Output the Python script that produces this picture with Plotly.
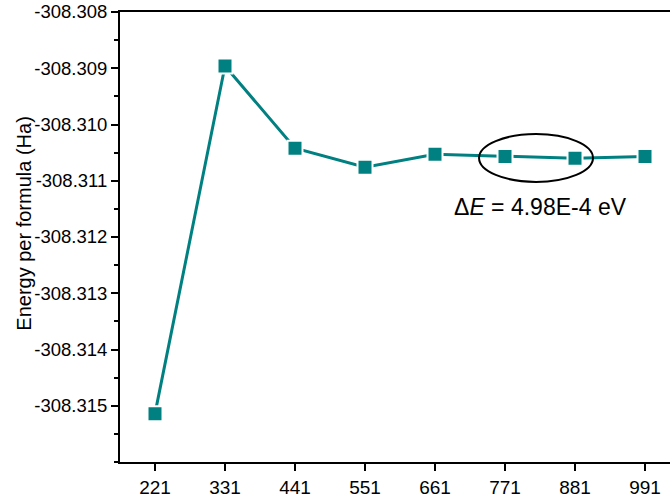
import plotly.graph_objects as go

# k-point meshes and total energy per formula unit (Ha)
kmesh = ["221", "331", "441", "551", "661", "771", "881", "991"]
energy = [-308.31514, -308.30896, -308.31042, -308.31076,
          -308.31053, -308.31057, -308.31060, -308.31057]

y_ticks = [-308.308, -308.309, -308.310, -308.311,
           -308.312, -308.313, -308.314, -308.315]
y_ticktext = ["-308.308", "-308.309", "-308.310", "-308.311",
              "-308.312", "-308.313", "-308.314", "-308.315"]

teal = "#008080"
font = "Liberation Sans, Arial, sans-serif"

fig = go.Figure()
fig.add_trace(go.Scatter(
    x=kmesh, y=energy, mode="lines+markers",
    line=dict(color=teal, width=3),
    marker=dict(symbol="square", size=15, color=teal,
                line=dict(color="white", width=2)),
    showlegend=False,
))

# ellipse marking the converged region
fig.add_shape(type="circle", xref="x", yref="y",
              x0=4.629, x1=6.257, y0=-308.31017, y1=-308.31102,
              line=dict(color="black", width=2))

fig.add_annotation(x=5.5, y=-308.311463, xref="x", yref="y",
                   text="Δ<i>E</i> = 4.98E-4 eV", showarrow=False,
                   font=dict(family=font, size=23, color="black"))

# y-axis title
fig.add_annotation(x=-0.176, y=0.53, xref="paper", yref="paper",
                   xanchor="center", yanchor="middle",
                   text="Energy per formula (Ha)", textangle=-90,
                   showarrow=False,
                   font=dict(family=font, size=20, color="black"))

fig.update_layout(
    width=670, height=497,
    margin=dict(l=120, r=0, t=12, b=35),
    paper_bgcolor="white", plot_bgcolor="white",
    font=dict(family=font, size=18, color="black"),
)
fig.update_xaxes(
    type="category", range=[-0.5, 7.357],
    showline=True, linecolor="black", linewidth=2, mirror=True,
    ticks="outside", ticklen=7, tickwidth=2, tickcolor="black",
    showgrid=False, zeroline=False,
    tickfont=dict(family=font, size=19),
)
fig.update_yaxes(
    range=[-308.316, -308.308],
    tickvals=y_ticks, ticktext=y_ticktext,
    showline=True, linecolor="black", linewidth=2, mirror=False,
    ticks="outside", ticklen=7, tickwidth=2, tickcolor="black",
    minor=dict(ticks="outside", dtick=0.0005, ticklen=4, tickwidth=2,
               tickcolor="black", showgrid=False),
    showgrid=False, zeroline=False,
    tickfont=dict(family=font, size=18.5),
)

fig.write_html("out.html")
